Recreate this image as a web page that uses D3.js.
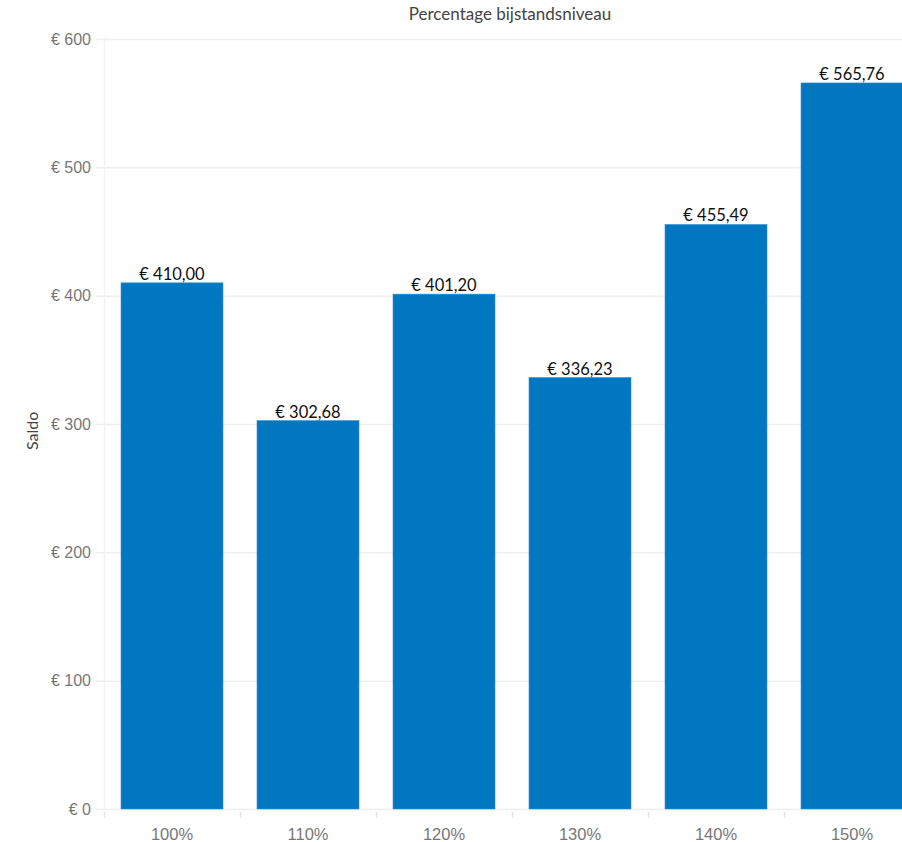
<!DOCTYPE html>
<html>
<head>
<meta charset="utf-8">
<script src="https://cdn.jsdelivr.net/npm/d3@7"></script>
<style>
  body { margin: 0; background: #fff; }
  svg { display: block; font-family: Lato, "Open Sans", sans-serif; }
</style>
</head>
<body>
<div id="chart"></div>
<script>
let categories = ["100%", "110%", "120%", "130%", "140%", "150%"];
let saldo = [410.00, 302.68, 401.20, 336.23, 455.49, 565.76];
let y_ticks = [0, 100, 200, 300, 400, 500, 600];
let chart_title = "Percentage bijstandsniveau";
let y_title = "Saldo";

let chart_width = 902;
let chart_height = 842;

let margin_top = 39;
let margin_left = 104;
let plot_width = 816;   // runs past the right edge, like the reference
let plot_height = 770;

let fmt_euro = function(v, dec) {
    let s = v.toFixed(dec).replace(".", ",");
    return "€ " + s;
};

let svg = d3.select("#chart")
            .append("svg")
            .attr("width", chart_width)
            .attr("height", chart_height);

let g = svg.append("g")
           .attr("transform", "translate(" + margin_left + "," + margin_top + ")");

let xScale = d3.scaleBand()
               .domain(categories)
               .range([0, plot_width])
               .paddingInner(0.25)
               .paddingOuter(0.125);

let yScale = d3.scaleLinear()
               .domain([0, 600])
               .range([plot_height, 0]);

// gridlines
g.selectAll(".grid")
 .data(y_ticks)
 .enter()
 .append("line")
 .attr("class", "grid")
 .attr("x1", -8)
 .attr("x2", plot_width)
 .attr("y1", d => yScale(d) + 0.5)
 .attr("y2", d => yScale(d) + 0.5)
 .attr("stroke", "#efefef")
 .attr("stroke-width", 1.5);

// left vertical line
g.append("line")
 .attr("x1", 0.5).attr("x2", 0.5)
 .attr("y1", -2).attr("y2", plot_height)
 .attr("stroke", "#f2f2f2")
 .attr("stroke-width", 1.5);

// y axis
let y_axis = g.append("g")
              .attr("class", "y axis")
              .call(d3.axisLeft(yScale).tickValues(y_ticks).tickSize(0).tickPadding(13)
                    .tickFormat(d => "€ " + d));
y_axis.select(".domain").remove();
y_axis.selectAll("text")
      .attr("fill", "#777")
      .style("font-size", "16px");

// x axis: labels plus separator ticks at band boundaries
let x_axis = g.append("g")
              .attr("class", "x axis")
              .attr("transform", "translate(0," + plot_height + ")")
              .call(d3.axisBottom(xScale).tickSize(0).tickPadding(19));
x_axis.select(".domain").remove();
x_axis.selectAll("text")
      .attr("fill", "#777")
      .style("font-size", "16.5px");

let step = xScale.step();
g.selectAll(".sep")
 .data(d3.range(categories.length + 1))
 .enter()
 .append("line")
 .attr("class", "sep")
 .attr("x1", i => i * step + 0.5)
 .attr("x2", i => i * step + 0.5)
 .attr("y1", plot_height + 3)
 .attr("y2", plot_height + 9)
 .attr("stroke", "#e6e6e6")
 .attr("stroke-width", 1.5);

// bars
g.selectAll(".bar")
 .data(saldo)
 .enter()
 .append("rect")
 .attr("class", "bar")
 .attr("x", (d, i) => xScale(categories[i]))
 .attr("y", d => yScale(d))
 .attr("width", xScale.bandwidth())
 .attr("height", d => plot_height - yScale(d))
 .attr("fill", "#0077c0")
 .attr("stroke", "#3a93d2")
 .attr("stroke-width", 0.6);

// bar labels
g.selectAll(".bar_label")
 .data(saldo)
 .enter()
 .append("text")
 .attr("class", "bar_label")
 .attr("x", (d, i) => xScale(categories[i]) + xScale.bandwidth() / 2)
 .attr("y", d => yScale(d) - 3)
 .attr("text-anchor", "middle")
 .attr("fill", "#111")
 .style("font-size", "16.5px")
 .text(d => fmt_euro(d, 2));

// title
svg.append("text")
   .attr("x", margin_left + plot_width / 2 - 2)
   .attr("y", 20)
   .attr("text-anchor", "middle")
   .attr("fill", "#444")
   .style("font-size", "17px")
   .text(chart_title);

// y title
svg.append("text")
   .attr("transform", "translate(38," + (margin_top + plot_height * 0.509) + ") rotate(-90)")
   .attr("text-anchor", "middle")
   .attr("fill", "#444")
   .style("font-size", "16px")
   .text(y_title);
</script>
</body>
</html>
